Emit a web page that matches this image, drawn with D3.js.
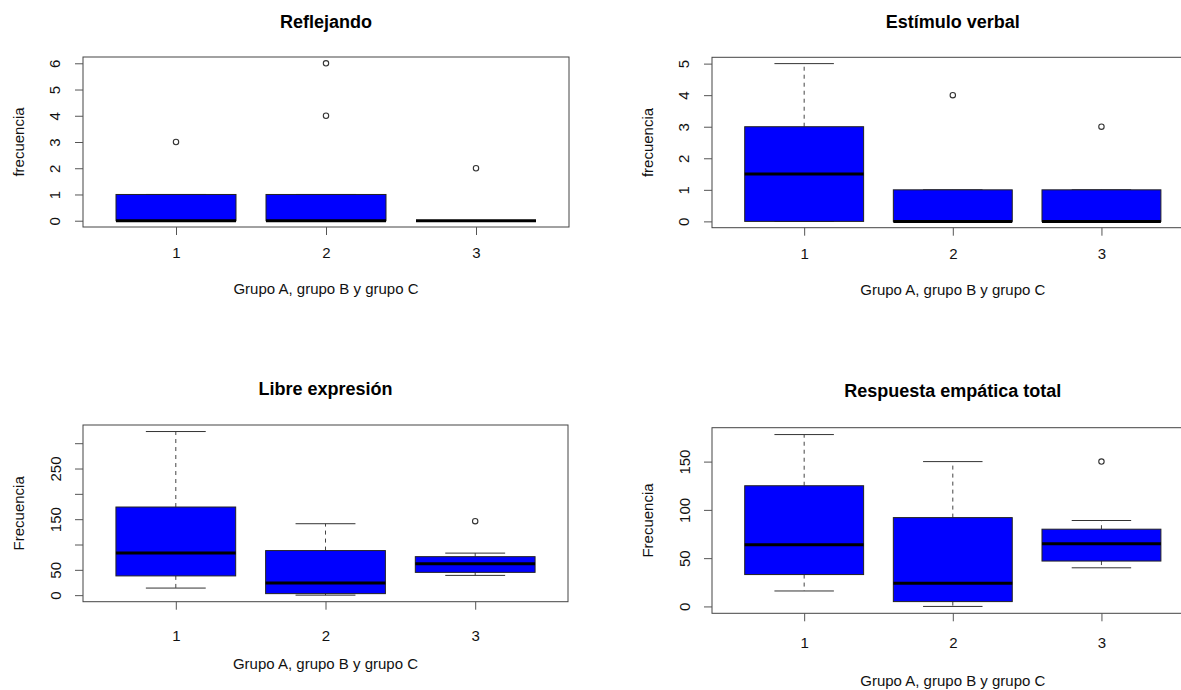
<!DOCTYPE html>
<html>
<head>
<meta charset="utf-8">
<script src="https://cdn.jsdelivr.net/npm/d3@7"></script>
<style>
  body { margin: 0; background: #fff; }
  svg { display: block; font-family: "Liberation Sans", Arial, sans-serif; }
</style>
</head>
<body>
<svg id="chart" width="1181" height="690"></svg>
<script>
// groups on the x axis
var groups = [1, 2, 3]

// Reflejando
var reflejandoLower = [0, 0, 0]
var reflejandoQ1 = [0, 0, 0]
var reflejandoMedian = [0, 0, 0]
var reflejandoQ3 = [1, 1, 0]
var reflejandoUpper = [1, 1, 0]
var reflejandoOut = [[3], [4, 6], [2]]
var reflejandoTicks = [0, 1, 2, 3, 4, 5, 6]

// Estímulo verbal
var estimuloLower = [0, 0, 0]
var estimuloQ1 = [0, 0, 0]
var estimuloMedian = [1.5, 0, 0]
var estimuloQ3 = [3, 1, 1]
var estimuloUpper = [5, 1, 1]
var estimuloOut = [[], [4], [3]]
var estimuloTicks = [0, 1, 2, 3, 4, 5]

// Libre expresión
var libreLower = [14, 0, 39]
var libreQ1 = [38, 3, 45]
var libreMedian = [83, 24, 62]
var libreQ3 = [174, 88, 76]
var libreUpper = [323, 141, 83]
var libreOut = [[], [], [146]]
var libreTicks = [0, 50, 100, 150, 200, 250, 300]
var libreTickLabels = [0, 50, 150, 250]

// Respuesta empática total
var totalLower = [16, 0, 40]
var totalQ1 = [33, 5, 47]
var totalMedian = [64, 24, 65]
var totalQ3 = [125, 92, 80]
var totalUpper = [178, 150, 89]
var totalOut = [[], [], [150]]
var totalTicks = [0, 50, 100, 150]

function makeStats(lo, q1, med, q3, hi, out) {
    return groups.map(function(g, i) {
        return {g: g, lo: lo[i], q1: q1[i], med: med[i], q3: q3[i], hi: hi[i], out: out[i]}
    })
}

var panels = [
    {title: "Reflejando", ylab: "frecuencia",
     stats: makeStats(reflejandoLower, reflejandoQ1, reflejandoMedian, reflejandoQ3, reflejandoUpper, reflejandoOut),
     ticks: reflejandoTicks, labels: reflejandoTicks,
     left: 83, right: 569, top: 57, bottom: 227,
     titleY: 28, yTickOff: 28, yLabX: 19, xTickOff: 26, xLabOff: 62},
    {title: "Estímulo verbal", ylab: "frecuencia",
     stats: makeStats(estimuloLower, estimuloQ1, estimuloMedian, estimuloQ3, estimuloUpper, estimuloOut),
     ticks: estimuloTicks, labels: estimuloTicks,
     left: 712, right: 1193.6, top: 57.3, bottom: 227.7,
     titleY: 28, yTickOff: 28, yLabX: 648, xTickOff: 26, xLabOff: 62},
    {title: "Libre expresión", ylab: "Frecuencia",
     stats: makeStats(libreLower, libreQ1, libreMedian, libreQ3, libreUpper, libreOut),
     ticks: libreTicks, labels: libreTickLabels,
     left: 83, right: 568, top: 425, bottom: 601.7,
     titleY: 395, yTickOff: 27, yLabX: 19, xTickOff: 34, xLabOff: 62},
    {title: "Respuesta empática total", ylab: "Frecuencia",
     stats: makeStats(totalLower, totalQ1, totalMedian, totalQ3, totalUpper, totalOut),
     ticks: totalTicks, labels: totalTicks,
     left: 712, right: 1193.6, top: 427.7, bottom: 613.3,
     titleY: 397, yTickOff: 27, yLabX: 648, xTickOff: 29, xLabOff: 67}
]

var svg = d3.select("#chart")
svg.append("rect").attr("width", 1181).attr("height", 690).attr("fill", "#fff")

panels.forEach(function(p) {
    // R style ranges: data range + 4% each side
    var all = []
    p.stats.forEach(function(s) { all.push(s.lo, s.hi); all = all.concat(s.out) })
    var ymin = d3.min(all), ymax = d3.max(all)
    var pad = (ymax - ymin) * 0.04

    var x = d3.scaleLinear()
        .domain([0.38, 3.62])
        .range([p.left, p.right])
    var y = d3.scaleLinear()
        .domain([ymin - pad, ymax + pad])
        .range([p.bottom, p.top])

    var g = svg.append("g")
    var unit = x(2) - x(1)
    var bw = unit * 0.8

    var box = g.selectAll(".bx")
        .data(p.stats)
        .enter()
        .append("g")

    // whiskers
    box.append("line")
        .attr("x1", function(d) { return x(d.g) }).attr("x2", function(d) { return x(d.g) })
        .attr("y1", function(d) { return y(d.q3) }).attr("y2", function(d) { return y(d.hi) })
        .style("stroke", "#444").style("stroke-dasharray", "4,4")
    box.append("line")
        .attr("x1", function(d) { return x(d.g) }).attr("x2", function(d) { return x(d.g) })
        .attr("y1", function(d) { return y(d.q1) }).attr("y2", function(d) { return y(d.lo) })
        .style("stroke", "#444").style("stroke-dasharray", "4,4")
    // staples
    box.append("line")
        .attr("x1", function(d) { return x(d.g) - bw / 4 }).attr("x2", function(d) { return x(d.g) + bw / 4 })
        .attr("y1", function(d) { return y(d.hi) }).attr("y2", function(d) { return y(d.hi) })
        .style("stroke", "#333")
    box.append("line")
        .attr("x1", function(d) { return x(d.g) - bw / 4 }).attr("x2", function(d) { return x(d.g) + bw / 4 })
        .attr("y1", function(d) { return y(d.lo) }).attr("y2", function(d) { return y(d.lo) })
        .style("stroke", "#333")

    box.append("rect")
        .attr("x", function(d) { return x(d.g) - bw / 2 })
        .attr("y", function(d) { return y(d.q3) })
        .attr("width", bw)
        .attr("height", function(d) { return y(d.q1) - y(d.q3) })
        .style("fill", "#0000ff")
        .style("stroke", "#222")
        .style("stroke-width", 1)

    box.append("line")
        .attr("x1", function(d) { return x(d.g) - bw / 2 }).attr("x2", function(d) { return x(d.g) + bw / 2 })
        .attr("y1", function(d) { return y(d.med) }).attr("y2", function(d) { return y(d.med) })
        .style("stroke", "#000").style("stroke-width", 3)

    box.selectAll("circle")
        .data(function(d) { return d.out.map(function(v) { return {g: d.g, v: v} }) })
        .enter()
        .append("circle")
        .attr("cx", function(d) { return x(d.g) })
        .attr("cy", function(d) { return y(d.v) })
        .attr("r", 2.7)
        .style("fill", "none")
        .style("stroke", "#333")
        .style("stroke-width", 1.1)

    // frame
    g.append("rect")
        .attr("x", p.left).attr("y", p.top)
        .attr("width", p.right - p.left).attr("height", p.bottom - p.top)
        .style("fill", "none").style("stroke", "#444")

    // y axis
    var yAxis = d3.axisLeft(y)
        .tickValues(p.ticks)
        .tickSize(8)
        .tickFormat(function(d) { return p.labels.indexOf(d) >= 0 ? d : "" })
    var yg = g.append("g")
        .attr("transform", "translate(" + p.left + ",0)")
        .call(yAxis)
    yg.select(".domain").remove()
    yg.selectAll("line").attr("stroke", "#555")
    yg.selectAll("text")
        .attr("x", null).attr("dy", "0.36em")
        .attr("text-anchor", "middle")
        .attr("transform", "translate(" + (-p.yTickOff) + ",0) rotate(-90)")
        .style("font-size", "15px").style("fill", "#111")
        .style("font-family", "Liberation Sans, Arial, sans-serif")

    // x axis
    var xAxis = d3.axisBottom(x)
        .tickValues(groups)
        .tickSize(8)
        .tickFormat(d3.format("d"))
    var xg = g.append("g")
        .attr("transform", "translate(0," + p.bottom + ")")
        .call(xAxis)
    xg.select(".domain").remove()
    xg.selectAll("line").attr("stroke", "#555")
    xg.selectAll("text")
        .attr("y", p.xTickOff).attr("dy", "0.36em")
        .style("font-size", "15px").style("fill", "#111")
        .style("font-family", "Liberation Sans, Arial, sans-serif")

    var cx = (p.left + p.right) / 2
    g.append("text")
        .attr("x", cx).attr("y", p.titleY)
        .attr("text-anchor", "middle")
        .style("font-size", "18px").style("font-weight", "bold")
        .text(p.title)

    g.append("text")
        .attr("x", cx).attr("y", p.bottom + p.xLabOff)
        .attr("dy", "0.36em")
        .attr("text-anchor", "middle")
        .style("font-size", "15px").style("fill", "#111")
        .text("Grupo A, grupo B y grupo C")

    g.append("text")
        .attr("transform", "translate(" + p.yLabX + "," + ((p.top + p.bottom) / 2) + ") rotate(-90)")
        .attr("dy", "0.36em")
        .attr("text-anchor", "middle")
        .style("font-size", "15px").style("fill", "#111")
        .text(p.ylab)
})
</script>
</body>
</html>
